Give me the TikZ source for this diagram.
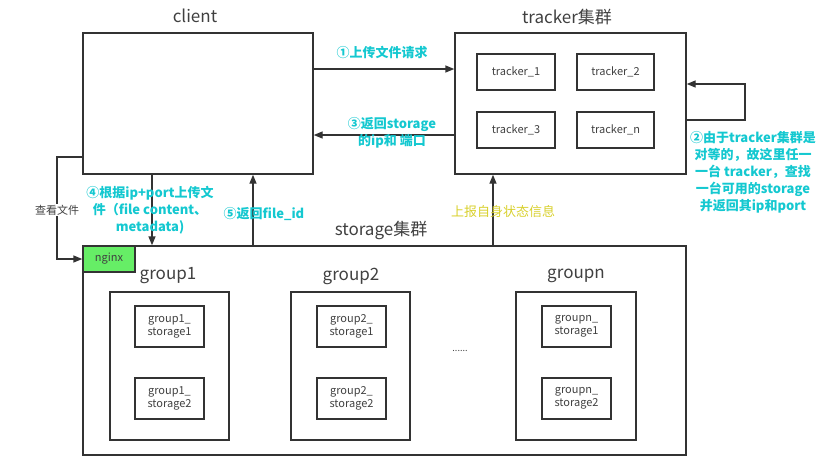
\documentclass[tikz,border=0pt]{standalone}
\usepackage{fontspec}
\setmainfont{Noto Sans CJK SC}
\usetikzlibrary{arrows.meta}
\definecolor{lc}{HTML}{333333}
\definecolor{tc}{HTML}{404040}
\definecolor{cy}{HTML}{14C8D0}
\definecolor{yl}{HTML}{D8D02C}
\definecolor{ng}{HTML}{66EE66}
\tikzset{
  box/.style={draw=lc, line width=1.4pt, inner sep=0pt, text=tc},
  arr/.style={draw=lc, line width=1.4pt, -{Triangle[length=9pt,width=7pt]}},
  ln/.style={draw=lc, line width=1.4pt},
  title/.style={text=tc, font=\fontsize{17}{20}\selectfont},
  small/.style={text=tc, font=\fontsize{11}{13.5}\selectfont, align=center},
  note/.style={text=cy, font=\fontsize{13}{17}\selectfont\bfseries, align=center, inner sep=1pt},
}
\begin{document}
\begin{tikzpicture}[x=1pt,y=-1pt]
\path[use as bounding box] (0,0) rectangle (839,467);
% titles
\node[title] (tclient) at (195,16) {client};
\node[title] (ttracker) at (567,17) {tracker集群};
\node[title] (tstorage) at (381,230) {storage集群};
% client
\node[box, minimum width=230pt, minimum height=141pt] (client) at (198,103.5) {};
% tracker
\node[box, minimum width=231pt, minimum height=141pt] (tracker) at (570.5,103.5) {};
\node[box, small, minimum width=78pt, minimum height=36pt] (t1) at (516,72) {tracker\_1};
\node[box, small, minimum width=77pt, minimum height=36pt] (t2) at (615.5,72) {tracker\_2};
\node[box, small, minimum width=78pt, minimum height=36pt] (t3) at (516,130) {tracker\_3};
\node[box, small, minimum width=77pt, minimum height=36pt] (tn) at (615.5,130) {tracker\_n};
% storage
\node[box, minimum width=603pt, minimum height=209pt] (storage) at (384.5,350.5) {};
\node[box, fill=ng, small, minimum width=52pt, minimum height=26pt] (nginx) at (109,259) {nginx};
% groups
\node[title] (lg1) at (168,276) {group1};
\node[title] (lg2) at (351,276) {group2};
\node[title] (lgn) at (576,276) {groupn};
\node[box, minimum width=119pt, minimum height=148pt] (g1) at (169.5,366) {};
\node[box, minimum width=119pt, minimum height=148pt] (g2) at (350.5,366) {};
\node[box, minimum width=120pt, minimum height=148pt] (gn) at (576,366) {};
\node[box, small, minimum width=69pt, minimum height=41pt] (g1s1) at (169.5,326.5) {group1\_\\storage1};
\node[box, small, minimum width=69pt, minimum height=41pt] (g1s2) at (169.5,398.5) {group1\_\\storage2};
\node[box, small, minimum width=69pt, minimum height=41pt] (g2s1) at (351.5,326.5) {group2\_\\storage1};
\node[box, small, minimum width=69pt, minimum height=41pt] (g2s2) at (351.5,398.5) {group2\_\\storage2};
\node[box, small, minimum width=69pt, minimum height=41pt] (gns1) at (576.5,326.5) {groupn\_\\storage1};
\node[box, small, minimum width=69pt, minimum height=41pt] (gns2) at (576.5,398.5) {groupn\_\\storage2};
\node[text=tc, font=\fontsize{9}{10}\selectfont] (dots) at (460,351) {......};
% helper coordinates
\coordinate (y1) at (0,69);
\coordinate (y3) at (0,135);
\coordinate (la) at (745,120);
\coordinate (lb) at (745,84);
\coordinate (ya) at (0,120);
\coordinate (yb) at (0,84);
\coordinate (yv) at (0,157);
\coordinate (vA) at (57,157);
\coordinate (vB) at (57,259);
\coordinate (x4) at (152,0);
\coordinate (x5) at (253,0);
\coordinate (xs) at (493,0);
% connectors
\draw[arr] (client.east |- y1) -- (tracker.west |- y1);
\draw[arr] (tracker.west |- y3) -- (client.east |- y3);
\draw[arr] (tracker.east |- ya) -- (la) -- (lb) -- (tracker.east |- yb);
\draw[arr] (client.west |- yv) -- (vA) -- (vB) -- (nginx.west);
\draw[arr] (client.south -| x4) -- (storage.north -| x4);
\draw[arr] (storage.north -| x5) -- (client.south -| x5);
\draw[arr] (storage.north -| xs) -- (tracker.south -| xs);
% labels
\node[fill=white, text=tc, font=\fontsize{11}{13}\selectfont, inner sep=1pt] (lview) at (57,210) {查看文件};
\node[note] (n1) at (382,52) {①上传文件请求};
\node[note] (n3) at (392,133) {③返回storage\\的ip和 端口};
\node[note] (n2) at (753,172) {②由于tracker集群是\\对等的，故这里任一\\一台 tracker，查找\\一台可用的storage\\并返回其ip和port};
\node[note] (n4) at (150,210) {④根据ip+port上传文\\件（file content、\\metadata)};
\node[note] (n5) at (264,214) {⑤返回file\_id};
\node[text=yl, font=\fontsize{13}{16}\selectfont, inner sep=1pt] (nst) at (503,212) {上报自身状态信息};
\end{tikzpicture}
\end{document}
